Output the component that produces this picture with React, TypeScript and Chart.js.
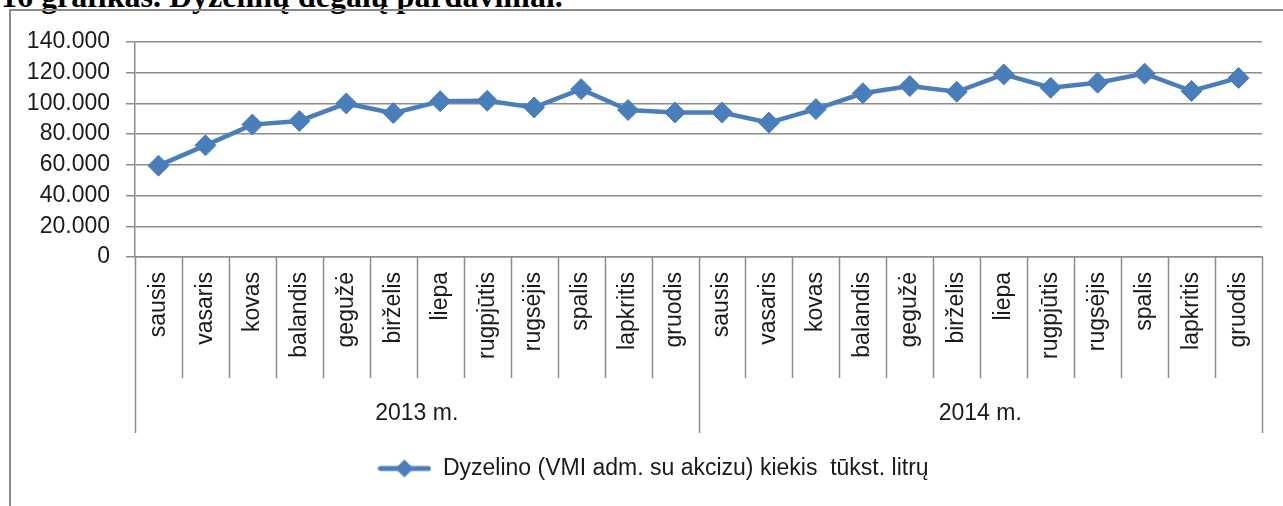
import React, { useEffect, useRef } from "react";
import { Chart, registerables } from "chart.js";

Chart.register(...registerables);

const TITLE = "16 grafikas. Dyzelinų degalų pardavimai.";
const MONTHS = [
  "sausis", "vasaris", "kovas", "balandis", "gegužė", "birželis",
  "liepa", "rugpjūtis", "rugsėjis", "spalis", "lapkritis", "gruodis",
];
const YEARS = ["2013 m.", "2014 m."];
const VALUES_2013 = [59500, 72700, 86200, 88600, 100000, 93700, 101400, 101700, 97400, 109300, 95700, 94100];
const VALUES_2014 = [94100, 87500, 96300, 106600, 111300, 107600, 118900, 110200, 113500, 119400, 108100, 116600];
const SERIES_LABEL = "Dyzelino (VMI adm. su akcizu) kiekis  tūkst. litrų";
const Y_MIN = 0;
const Y_MAX = 140000;
const Y_STEP = 20000;

const BLUE = "#4a7ebb";
const GRID = "#8c8c8c";
const TEXT = "#1a1a1a";
const FONT = "'Liberation Sans', Arial, sans-serif";

const fmt = (v: number) => String(v).replace(/\B(?=(\d{3})+(?!\d))/g, ".");

function legendSymbol(): HTMLCanvasElement {
  const c = document.createElement("canvas");
  c.width = 54;
  c.height = 24;
  const g = c.getContext("2d")!;
  g.strokeStyle = BLUE;
  g.lineWidth = 5;
  g.lineCap = "round";
  g.beginPath();
  g.moveTo(3, 12);
  g.lineTo(51, 12);
  g.stroke();
  g.fillStyle = BLUE;
  g.beginPath();
  g.moveTo(27, 3);
  g.lineTo(36, 12);
  g.lineTo(27, 21);
  g.lineTo(18, 12);
  g.closePath();
  g.fill();
  return c;
}

const groupPlugin = {
  id: "yearGroups",
  afterDraw(chart: any) {
    const { ctx, chartArea } = chart;
    const { left, right, bottom } = chartArea;
    const n = MONTHS.length * YEARS.length;
    const step = (right - left) / n;
    ctx.save();
    ctx.strokeStyle = GRID;
    ctx.lineWidth = 1.5;
    for (let i = 0; i <= n; i++) {
      const x = Math.round(left + i * step) + 0.5;
      const len = i % MONTHS.length === 0 ? 176 : 121;
      ctx.beginPath();
      ctx.moveTo(x, bottom);
      ctx.lineTo(x, bottom + len);
      ctx.stroke();
    }
    ctx.fillStyle = TEXT;
    ctx.font = `23px ${FONT}`;
    ctx.textAlign = "center";
    ctx.textBaseline = "middle";
    YEARS.forEach((yr, g) => {
      const cx = left + (g * MONTHS.length + MONTHS.length / 2) * step;
      ctx.fillText(yr, cx, bottom + 157);
    });
    ctx.restore();
  },
};

const legendShift = {
  id: "legendShift",
  afterLayout(chart: any) {
    const lg = chart.legend;
    if (lg) {
      lg.left += 22;
      lg.right += 22;
    }
  },
};

export default function App() {
  const ref = useRef<HTMLCanvasElement>(null);

  useEffect(() => {
    if (!ref.current) return;
    const labels = YEARS.flatMap(() => MONTHS);
    const data = [...VALUES_2013, ...VALUES_2014];
    const symbol = legendSymbol();
    const chart = new Chart(ref.current, {
      type: "line",
      data: {
        labels,
        datasets: [
          {
            label: SERIES_LABEL,
            data,
            borderColor: BLUE,
            backgroundColor: BLUE,
            borderWidth: 4.5,
            tension: 0,
            pointStyle: "rectRot",
            pointRadius: 10.5,
            pointHoverRadius: 10.5,
            pointBackgroundColor: BLUE,
            pointBorderColor: BLUE,
            pointBorderWidth: 1,
          },
        ],
      },
      options: {
        animation: false,
        responsive: false,
        devicePixelRatio: 1,
        layout: { padding: { left: 0, top: 42, right: 21, bottom: 16 } },
        scales: {
          x: {
            type: "category",
            offset: true,
            grid: { display: false, drawTicks: false },
            border: { display: true, color: GRID, width: 1.5 },
            ticks: {
              autoSkip: false,
              minRotation: 90,
              maxRotation: 90,
              padding: 15,
              color: TEXT,
              font: { family: FONT, size: 23 },
            },
            afterFit(scale: any) {
              scale.height = 190;
            },
          },
          y: {
            min: Y_MIN,
            max: Y_MAX,
            ticks: {
              stepSize: Y_STEP,
              padding: 16,
              color: TEXT,
              font: { family: FONT, size: 23 },
              callback: (v: any) => fmt(Number(v)),
            },
            grid: { color: GRID, lineWidth: 1.5, drawTicks: true, tickLength: 9 },
            border: { display: true, color: GRID, width: 1.5 },
            afterFit(scale: any) {
              scale.width = 135;
            },
          },
        },
        plugins: {
          legend: {
            position: "bottom",
            labels: {
              usePointStyle: true,
              pointStyleWidth: 54,
              padding: 10,
              color: TEXT,
              font: { family: FONT, size: 23 },
              generateLabels: (ch: any) =>
                ch.data.datasets.map((ds: any, i: number) => ({
                  text: ds.label,
                  pointStyle: symbol,
                  fillStyle: BLUE,
                  strokeStyle: BLUE,
                  lineWidth: 0,
                  datasetIndex: i,
                  hidden: false,
                  fontColor: TEXT,
                })),
            },
          },
          tooltip: { enabled: false },
          title: { display: false },
        },
      },
      plugins: [groupPlugin, legendShift],
    });
    return () => chart.destroy();
  }, []);

  return (
    <div
      style={{
        position: "absolute",
        left: 0,
        top: 0,
        width: 1283,
        height: 506,
        overflow: "hidden",
        background: "#fff",
      }}
    >
      <div
        style={{
          position: "absolute",
          left: 1,
          top: -20,
          font: "bold 32px 'Liberation Serif', 'Times New Roman', serif",
          lineHeight: "32px",
          whiteSpace: "nowrap",
          color: "#000",
        }}
      >
        {TITLE}
      </div>
      <div
        style={{
          position: "absolute",
          left: 9,
          top: 9,
          width: 1400,
          height: 600,
          border: "2px solid #8a8a8a",
        }}
      />
      <canvas
        ref={ref}
        width={1283}
        height={506}
        style={{ position: "absolute", left: 0, top: 0, width: 1283, height: 506 }}
      />
    </div>
  );
}
